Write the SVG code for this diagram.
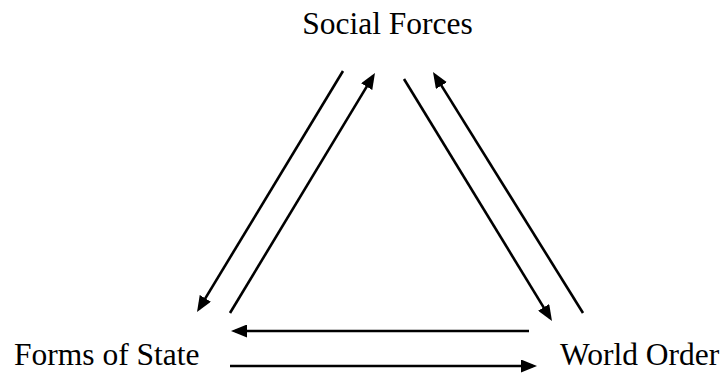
<svg xmlns="http://www.w3.org/2000/svg" width="723" height="374" viewBox="0 0 723 374">
<style>
  text { font-family: serif; font-size: 31.5px; fill: #000; }
  .conn { stroke: #000; stroke-width: 2.6; fill: none; }
</style>
<defs>
  <marker id="ah" markerUnits="userSpaceOnUse" markerWidth="16" markerHeight="13" refX="12" refY="6.5" orient="auto">
    <path d="M0,0 L16,6.5 L0,13 z" fill="#000"/>
  </marker>
</defs>
<rect width="723" height="374" fill="#fff"/>
<g id="social-forces"><text x="387.5" y="33.5" text-anchor="middle">Social Forces</text></g>
<g id="forms-of-state"><text x="14" y="364.5">Forms of State</text></g>
<g id="world-order"><text x="560" y="364.5">World Order</text></g>
<g id="connectors">
  <line class="conn" x1="343" y1="71" x2="199.1" y2="308.6" marker-end="url(#ah)"/>
  <line class="conn" x1="230" y1="313" x2="372.9" y2="76.4" marker-end="url(#ah)"/>
  <line class="conn" x1="404" y1="79" x2="549.9" y2="317.6" marker-end="url(#ah)"/>
  <line class="conn" x1="583" y1="313" x2="435.1" y2="75.4" marker-end="url(#ah)"/>
  <line class="conn" x1="529" y1="331" x2="235" y2="331" marker-end="url(#ah)"/>
  <line class="conn" x1="230" y1="366" x2="533" y2="366" marker-end="url(#ah)"/>
</g>
</svg>
